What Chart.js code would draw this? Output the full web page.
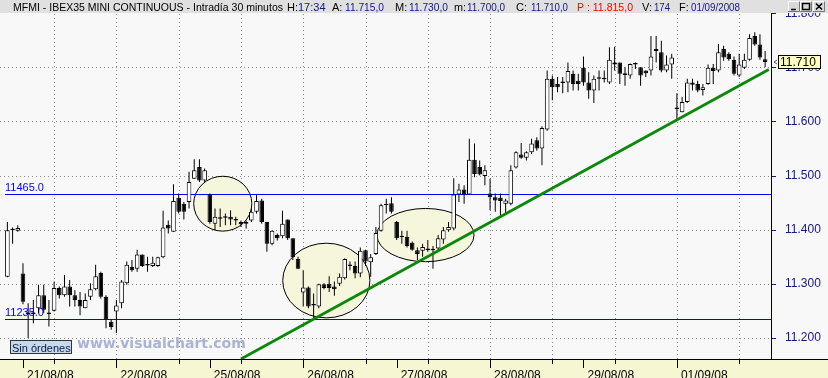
<!DOCTYPE html>
<html><head><meta charset="utf-8">
<script src="https://cdn.jsdelivr.net/npm/chart.js@4/dist/chart.umd.min.js"></script>
<style>html,body{margin:0;padding:0;background:#F8F8F8;overflow:hidden}canvas{display:block}</style>
</head><body><canvas id="c" width="828" height="378"></canvas>
<script>
// ---------- DATA ----------
const dayLabels = ['21/08/08','22/08/08','25/08/08','26/08/08','27/08/08','28/08/08','29/08/08','01/09/08'];
const dayStartBar = [3,21,39,57,75,93,111,129];
const gridBars = [9,21,33,45,57,69,81,93,105,117,129,141];
const yTicks = [11200,11300,11400,11500,11600,11700,11800];

const open  = [11313,11400,11398,11319,11246,11245,11255,11279,11244,11250,11292,11279,11295,11279,11270,11255,11276,11290,11320,11276,
11230,11249,11264,11301,11331,11328,11354,11335,11333,11333,11349,11409,11396,11459,11448,11451,11494,11516,11491,11465,
11411,11421,11422,11424,11418,11414,11411,11417,11433,11454,11414,11374,11390,11388,11419,11384,11346,11284,11293,11261,
11258,11299,11300,11295,11300,11310,11335,11333,11319,11362,11340,11355,11398,11448,11449,11414,11388,11387,11376,11362,
11361,11365,11362,11365,11382,11399,11402,11465,11474,11465,11529,11516,11499,11467,11460,11459,11448,11448,11515,11539,
11533,11543,11565,11550,11585,11679,11669,11672,11672,11688,11675,11699,11672,11657,11679,11679,11672,11705,11709,11689,
11685,11706,11700,11694,11694,11730,11728,11694,11705,11623,11617,11636,11672,11669,11658,11669,11699,11694,11734,11725,
11714,11685,11699,11714,11758,11742,11715];
const high  = [11414,11404,11408,11338,11264,11270,11298,11298,11270,11304,11295,11316,11307,11288,11285,11282,11301,11335,11322,11279,
11233,11270,11307,11341,11344,11363,11354,11350,11350,11350,11435,11417,11484,11467,11451,11507,11530,11530,11513,11467,
11439,11439,11430,11436,11424,11417,11417,11439,11465,11457,11414,11399,11393,11435,11419,11384,11350,11325,11295,11282,
11300,11301,11314,11304,11319,11347,11341,11341,11367,11363,11355,11405,11448,11457,11460,11416,11398,11398,11378,11367,
11374,11381,11370,11390,11405,11414,11495,11485,11482,11568,11559,11528,11519,11494,11467,11467,11457,11519,11545,11560,
11545,11568,11571,11591,11694,11685,11682,11682,11709,11694,11688,11720,11691,11685,11694,11694,11737,11738,11709,11700,
11707,11709,11700,11694,11758,11758,11749,11722,11725,11652,11645,11679,11679,11675,11669,11705,11706,11743,11740,11728,
11720,11725,11725,11761,11765,11761,11730];
const low   = [11312,11374,11396,11262,11200,11227,11246,11246,11221,11249,11273,11276,11258,11258,11242,11255,11270,11288,11273,11218,
11215,11209,11255,11298,11322,11322,11331,11322,11331,11331,11347,11393,11396,11430,11419,11439,11494,11488,11488,11411,
11399,11405,11408,11408,11408,11405,11402,11414,11430,11411,11359,11371,11380,11384,11381,11344,11327,11258,11255,11234,
11255,11290,11285,11278,11296,11308,11325,11310,11312,11333,11313,11353,11396,11430,11430,11381,11374,11367,11361,11344,
11350,11359,11328,11359,11374,11396,11399,11451,11448,11465,11497,11500,11482,11436,11433,11424,11427,11445,11513,11531,
11528,11540,11546,11519,11583,11639,11654,11652,11654,11657,11657,11666,11642,11634,11657,11672,11669,11694,11669,11666,
11679,11697,11666,11682,11685,11709,11691,11691,11679,11602,11617,11634,11657,11654,11648,11668,11669,11691,11712,11712,
11685,11682,11697,11712,11740,11714,11700];
const close = [11399,11399,11403,11267,11244,11244,11279,11252,11245,11292,11279,11295,11279,11270,11258,11270,11290,11314,11276,11234,
11220,11260,11304,11335,11325,11354,11333,11334,11339,11349,11404,11402,11453,11433,11433,11488,11510,11491,11510,11414,
11424,11420,11423,11419,11417,11410,11414,11433,11453,11414,11374,11398,11384,11411,11384,11349,11328,11293,11258,11260,
11299,11292,11292,11290,11313,11346,11333,11319,11361,11341,11349,11394,11445,11445,11433,11384,11386,11370,11363,11355,
11368,11362,11363,11384,11399,11405,11465,11474,11465,11529,11503,11502,11510,11460,11454,11453,11454,11510,11543,11533,
11543,11559,11550,11588,11679,11663,11663,11671,11693,11669,11669,11672,11657,11679,11680,11678,11714,11709,11688,11686,
11706,11705,11685,11689,11720,11734,11694,11705,11718,11624,11636,11672,11668,11657,11663,11699,11693,11728,11718,11715,
11688,11705,11714,11754,11742,11718,11710];

const levelValues = [11465, 11235];
const levelLabels = ['11465.0', '11235.0'];
const trendX = [45, 146.7];
const trendY = [11161, 11696];
// annotation ellipses (bar index, price, radius in bars, radius in points)
const ellCX = [41.5, 61.45, 80.56];
const ellCY = [11448, 11306, 11390];
const ellRX = [5.6, 8.4, 9.35];
const ellRY = [50.7, 69, 49.2];
const lastPrice = close[close.length - 1];

// ---------- STYLE ----------
const SANS = '"Liberation Sans", Arial, sans-serif';
const NAVY = '#14148C';
const header = [
  ['MFMI - IBEX35 MINI CONTINUOUS - Intradía 30 minutos', 13, '#000', 270],
  ['H:', 287, '#000', 12], ['17:34', 298, NAVY, 28],
  ['A:', 332, '#000', 12], ['11.715,0', 345, NAVY, 39],
  ['M:', 395, '#000', 13], ['11.730,0', 409, NAVY, 39],
  ['m:', 454, '#000', 12], ['11.700,0', 467, NAVY, 38],
  ['C:', 516, '#000', 12], ['11.710,0', 531, NAVY, 37],
  ['P : 11.815,0', 577, '#FF0000', 56],
  ['V:', 642, '#000', 11], ['174', 654, NAVY, 16],
  ['F:', 679, '#000', 11], ['01/09/2008', 691, NAVY, 49]
];

const decor = {
  id: 'decor',
  beforeDraw(chart) {
    const {ctx, chartArea: a, scales: {x, y}} = chart;
    ctx.save();
    ctx.fillStyle = '#F8F8F8'; ctx.fillRect(0, 0, 828, 378);
    ctx.fillStyle = '#F6F6D2'; ctx.fillRect(0, a.bottom, 828, 378 - a.bottom);
    ctx.strokeStyle = '#888'; ctx.lineWidth = 1; ctx.setLineDash([1, 3]);
    yTicks.forEach(v => {
      const py = Math.round(y.getPixelForValue(v)) + 0.5;
      if (py < 14) return;
      ctx.beginPath(); ctx.moveTo(0, py); ctx.lineTo(a.right, py); ctx.stroke();
    });
    gridBars.forEach(b => {
      const px = Math.round(x.getPixelForValue(b)) + 0.5;
      ctx.beginPath(); ctx.moveTo(px, 14); ctx.lineTo(px, a.bottom); ctx.stroke();
    });
    ctx.restore();
  },
  beforeDatasetsDraw(chart) {
    const {ctx, chartArea: a, scales: {x, y}} = chart;
    ctx.save();
    ellCX.forEach((cx, k) => {
      const px = x.getPixelForValue(cx), py = y.getPixelForValue(ellCY[k]);
      const rx = Math.abs(x.getPixelForValue(cx + ellRX[k]) - px);
      const ry = Math.abs(y.getPixelForValue(ellCY[k] + ellRY[k]) - py);
      ctx.beginPath(); ctx.ellipse(px, py, rx, ry, 0, 0, Math.PI * 2);
      ctx.fillStyle = '#F6F6DC'; ctx.fill();
      ctx.strokeStyle = '#000'; ctx.lineWidth = 1; ctx.stroke();
    });
    levelValues.forEach((v, k) => {
      const py = Math.round(y.getPixelForValue(v)) + 0.5;
      ctx.strokeStyle = '#0000FF'; ctx.lineWidth = 1;
      ctx.beginPath(); ctx.moveTo(5, py); ctx.lineTo(a.right, py); ctx.stroke();
      ctx.fillStyle = '#0000FF'; ctx.font = '11px ' + SANS; ctx.textBaseline = 'alphabetic';
      ctx.fillText(levelLabels[k], 5, py - 4);
    });
    ctx.restore();
  },
  afterDatasetsDraw(chart) {
    const {ctx} = chart;
    ctx.save();
    ctx.font = 'bold 14px "DejaVu Sans", Verdana, sans-serif';
    ctx.fillStyle = '#A9B3D6'; ctx.textBaseline = 'alphabetic';
    ctx.fillText('www.visualchart.com', 77, 348);
    ctx.fillStyle = '#C6D9EE'; ctx.fillRect(10, 340, 62, 14);
    ctx.strokeStyle = '#333'; ctx.lineWidth = 1; ctx.strokeRect(10.5, 340.5, 61, 13);
    ctx.fillStyle = '#0A1A40'; ctx.font = '11px ' + SANS;
    ctx.fillText('Sin órdenes', 12, 351.5);
    ctx.restore();
  },
  afterDraw(chart) {
    const {ctx, chartArea: a, scales: {x, y}} = chart;
    ctx.save();
    ctx.strokeStyle = '#000'; ctx.lineWidth = 1;
    ctx.beginPath(); ctx.moveTo(0, a.bottom + 0.5); ctx.lineTo(828, a.bottom + 0.5); ctx.stroke();
    ctx.beginPath(); ctx.moveTo(Math.round(a.right) + 0.5, 13); ctx.lineTo(Math.round(a.right) + 0.5, a.bottom); ctx.stroke();
    gridBars.forEach(b => {
      const px = Math.round(x.getPixelForValue(b)) + 0.5;
      ctx.beginPath(); ctx.moveTo(px, a.bottom); ctx.lineTo(px, a.bottom + 5); ctx.stroke();
    });
    dayStartBar.forEach(b => {
      const px = Math.round(x.getPixelForValue(b)) + 0.5;
      ctx.beginPath(); ctx.moveTo(px, a.bottom); ctx.lineTo(px, a.bottom + 9); ctx.stroke();
    });
    ctx.strokeStyle = NAVY;
    yTicks.forEach(v => {
      const py = Math.round(y.getPixelForValue(v)) + 0.5;
      ctx.beginPath(); ctx.moveTo(Math.round(a.right) + 1, py); ctx.lineTo(Math.round(a.right) + 5, py); ctx.stroke();
    });
    const lp = Math.round(y.getPixelForValue(lastPrice));
    ctx.fillStyle = '#FFFFC0'; ctx.fillRect(778, lp - 7, 43, 14);
    ctx.strokeStyle = '#000'; ctx.strokeRect(778.5, lp - 6.5, 42, 13);
    ctx.fillStyle = '#000'; ctx.font = '12px ' + SANS; ctx.textBaseline = 'middle';
    ctx.fillText((lastPrice / 1000).toFixed(3), 780, lp + 0.5);
    ctx.strokeStyle = '#555';
    ctx.beginPath(); ctx.moveTo(777, lp - 2); ctx.lineTo(774, lp); ctx.lineTo(777, lp + 2); ctx.stroke();
    ctx.fillStyle = '#E0E0E0'; ctx.fillRect(0, 0, 828, 13);
    ctx.textBaseline = 'alphabetic'; ctx.font = '11px ' + SANS;
    header.forEach(([t, hx, col, w]) => { ctx.fillStyle = col; ctx.fillText(t, hx, 11, w); });
    [[788, '_'], [800, 'o'], [813, 'x']].forEach(([bx, k]) => {
      ctx.fillStyle = '#D8D8D8'; ctx.fillRect(bx, 1, 12, 11);
      ctx.strokeStyle = '#FFF'; ctx.beginPath(); ctx.moveTo(bx + 0.5, 12); ctx.lineTo(bx + 0.5, 1.5); ctx.lineTo(bx + 12, 1.5); ctx.stroke();
      ctx.strokeStyle = '#777'; ctx.beginPath(); ctx.moveTo(bx + 11.5, 1.5); ctx.lineTo(bx + 11.5, 11.5); ctx.lineTo(bx, 11.5); ctx.stroke();
      ctx.strokeStyle = '#000'; ctx.lineWidth = 1.5; ctx.beginPath();
      if (k === '_') { ctx.moveTo(bx + 3, 9.5); ctx.lineTo(bx + 8, 9.5); }
      else if (k === 'o') { ctx.rect(bx + 2.5, 3.5, 7, 6); }
      else { ctx.moveTo(bx + 3, 3.5); ctx.lineTo(bx + 9, 9.5); ctx.moveTo(bx + 9, 3.5); ctx.lineTo(bx + 3, 9.5); }
      ctx.stroke(); ctx.lineWidth = 1;
    });
    ctx.restore();
  }
};

const idx = open.map((_, i) => i);
new Chart(document.getElementById('c'), {
  type: 'bar',
  data: {
    datasets: [
      { type: 'line', data: trendX.map((v, i) => ({x: v, y: trendY[i]})), borderColor: '#0A880A', borderWidth: 2.8,
        pointRadius: 0, order: 0 },
      { type: 'bar', data: idx.map(i => ({x: i, y: [Math.min(open[i], close[i]), Math.max(open[i], close[i])]})),
        backgroundColor: c => close[c.dataIndex] >= open[c.dataIndex] ? '#FFFFFF' : '#000000',
        borderColor: '#000', borderWidth: 1, borderSkipped: false, barThickness: 4.6, minBarLength: 1.5,
        grouped: false, order: 1, inflateAmount: 0 },
      { type: 'bar', data: idx.map(i => ({x: i, y: [low[i], high[i]]})), backgroundColor: '#000',
        barThickness: 1, grouped: false, order: 2, inflateAmount: 0 }
    ]
  },
  options: {
    responsive: false, animation: false, devicePixelRatio: 1,
    layout: { autoPadding: false, padding: { left: 4.8, top: 12.4, right: 0, bottom: 0 } },
    plugins: { legend: { display: false }, tooltip: { enabled: false } },
    scales: {
      x: { type: 'linear', min: -0.5, max: 147.13, offset: false,
        grid: { display: false }, border: { display: false },
        afterBuildTicks: s => { s.ticks = dayStartBar.map(v => ({value: v})); },
        afterFit: s => { s.height = 19; },
        ticks: { autoSkip: false, maxRotation: 0, align: 'start', labelOffset: 4, padding: 1,
          color: '#000', font: { family: SANS, size: 12 },
          callback: (v, i) => dayLabels[i] } },
      y: { type: 'linear', position: 'right', min: 11161, max: 11800,
        grid: { display: false }, border: { display: false },
        afterBuildTicks: s => { s.ticks = yTicks.map(v => ({value: v})); },
        afterFit: s => { s.width = 57; },
        ticks: { padding: 6, color: NAVY, font: { family: SANS, size: 12 },
          callback: v => (v / 1000).toFixed(3) } }
    }
  },
  plugins: [decor]
});
</script></body></html>
